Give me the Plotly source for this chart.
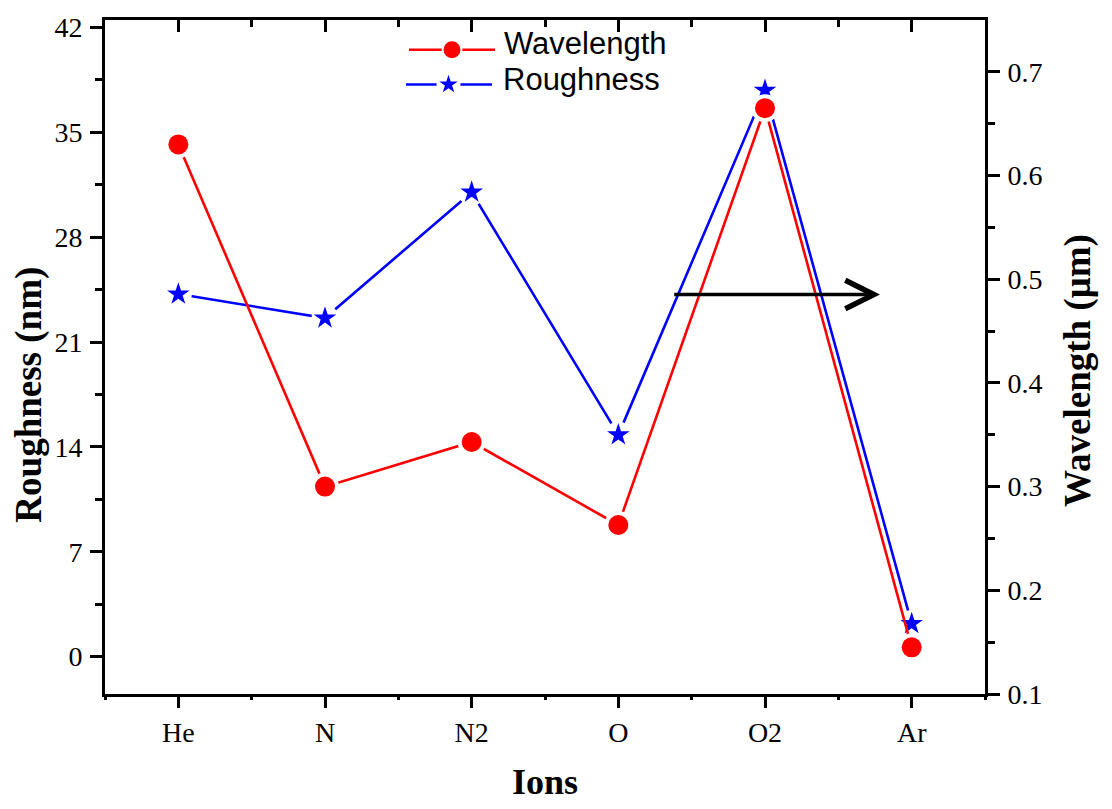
import plotly.graph_objects as go

# Data
ions = ["He", "N", "N2", "O", "O2", "Ar"]
roughness_nm = [24.2, 22.6, 31.0, 14.8, 37.8, 2.2]
wavelength_um = [0.630, 0.300, 0.343, 0.263, 0.665, 0.145]

roughness_ticks = list(range(0, 43, 7))
wavelength_ticks = [0.1, 0.2, 0.3, 0.4, 0.5, 0.6, 0.7]
wavelength_minor = [0.15, 0.25, 0.35, 0.45, 0.55, 0.65]

RED = "#FF0000"
BLUE = "#0000FF"
SERIF = "Liberation Serif"
SANS = "Liberation Sans"

# Pixel frame of the plotting area
L, R, T, B = 105, 985, 14, 694
W_FIG, H_FIG = 1112, 809

n = len(ions)
half_positions = [i - 0.5 for i in range(n + 1)]


def px_x(v):
    return (v - L) / (R - L)


def px_y(v):
    return (B - v) / (B - T)


fig = go.Figure()


def series(x, y, color, symbol, size, halo, yaxis, xaxis="x", mx=None, my=None):
    common = dict(xaxis=xaxis, yaxis=yaxis, showlegend=False, hoverinfo="skip")
    mx = x if mx is None else mx
    my = y if my is None else my
    fig.add_trace(go.Scatter(x=x, y=y, mode="lines", line=dict(color=color, width=2.6), **common))
    fig.add_trace(go.Scatter(x=mx, y=my, mode="markers",
                             marker=dict(symbol="circle", size=halo, color="white", line=dict(width=0)),
                             **common))
    fig.add_trace(go.Scatter(x=mx, y=my, mode="markers",
                             marker=dict(symbol=symbol, size=size, color=color, line=dict(width=0)),
                             **common))


# Roughness on the left axis, wavelength on the right axis
series(ions, roughness_nm, BLUE, "star", 17, 27, "y")
series(ions, wavelength_um, RED, "circle", 20, 28, "y2")

# Placeholder traces so the tick-only overlay axes are rendered
fig.add_trace(go.Scatter(x=[None], y=[None], xaxis="x2", yaxis="y", showlegend=False, hoverinfo="skip"))
fig.add_trace(go.Scatter(x=[None], y=[None], xaxis="x3", yaxis="y", showlegend=False, hoverinfo="skip"))

# Legend samples (pixel coordinates of the overlay axis)
series([409, 495], [44, 44], RED, "circle", 17, 21, "y3", "x4", [452], [44])
series([406, 492], [79, 79], BLUE, "star", 14, 24, "y3", "x4", [448.5], [79])

axis_common = dict(showgrid=False, zeroline=False, linecolor="black", tickcolor="black")
tickfont = dict(family=SERIF, size=28, color="black")

fig.update_layout(
    width=W_FIG, height=H_FIG,
    margin=dict(l=L, r=W_FIG - R, t=T, b=H_FIG - B, pad=0),
    paper_bgcolor="white", plot_bgcolor="white",
    showlegend=False,
    xaxis=dict(type="category", range=[-0.5, n - 0.5], showline=True, linewidth=3, mirror=True,
               ticks="outside", ticklen=11, tickwidth=2.5, tickfont=tickfont, anchor="y",
               **axis_common),
    xaxis2=dict(overlaying="x", type="linear", range=[-0.5, n - 0.5], anchor="y", side="bottom",
                tickmode="array", tickvals=half_positions, ticks="outside", ticklen=5, tickwidth=2.5,
                showticklabels=False, showline=False, **axis_common),
    xaxis3=dict(overlaying="x", type="linear", range=[-0.5, n - 0.5], anchor="y", side="top",
                tick0=0, dtick=1, ticks="inside", ticklen=12, tickwidth=2.5,
                minor=dict(tick0=0, dtick=0.5, ticks="inside", ticklen=7, tickwidth=2.5, tickcolor="black"),
                showticklabels=False, showline=False, **axis_common),
    xaxis4=dict(overlaying="x", range=[L, R], visible=False, anchor="y3"),
    yaxis=dict(range=[-2.5, 42.5], tickmode="array", tickvals=roughness_ticks,
               ticks="outside", ticklen=12, tickwidth=2.5, showline=True, linewidth=3,
               minor=dict(tick0=0, dtick=3.5, ticks="outside", ticklen=7, tickwidth=2.5, tickcolor="black"),
               tickfont=tickfont, ticklabelstandoff=2, anchor="x", **axis_common),
    yaxis2=dict(overlaying="y", side="right", anchor="x", range=[0.1, 0.75],
                tickmode="array", tickvals=wavelength_ticks, ticktext=[f"{v:.1f}" for v in wavelength_ticks],
                ticks="outside", ticklen=12, tickwidth=2.5, showline=True, linewidth=3,
                minor=dict(tickmode="array", tickvals=wavelength_minor, ticks="outside", ticklen=7,
                           tickwidth=2.5, tickcolor="black"),
                tickfont=tickfont, ticklabelstandoff=2, **axis_common),
    yaxis3=dict(overlaying="y", range=[B, T], visible=False, anchor="x4"),
)

# Axis titles
title_font = dict(family=SERIF, size=37, color="black")
pann = dict(xref="paper", yref="paper", showarrow=False, xanchor="center", yanchor="middle")
fig.add_annotation(text="<b>Roughness (nm)</b>", x=px_x(29), y=px_y(392), textangle=-90, font=title_font, **pann)
fig.add_annotation(text="<b>Wavelength (μm)</b>", x=px_x(1078), y=px_y(368), textangle=-90, font=title_font, **pann)
fig.add_annotation(text="<b>Ions</b>", x=px_x(545), y=px_y(783), font=dict(family=SERIF, size=36, color="black"), **pann)

# Legend labels
legend_font = dict(family=SANS, size=31, color="black")
fig.add_annotation(text="Wavelength", x=px_x(502), y=px_y(38), xanchor="left", yanchor="middle",
                   xref="paper", yref="paper", showarrow=False, font=legend_font)
fig.add_annotation(text="Roughness", x=px_x(501), y=px_y(74), xanchor="left", yanchor="middle",
                   xref="paper", yref="paper", showarrow=False, font=legend_font)

# Arrow pointing to the right-hand axis
fig.add_annotation(text="", x=880, y=291, ax=672.7, ay=291, xref="x4", yref="y3", axref="x4", ayref="y3",
                   showarrow=True, arrowhead=5, arrowsize=1.6, arrowwidth=3.5, arrowcolor="black")

fig.write_html("out.html")
